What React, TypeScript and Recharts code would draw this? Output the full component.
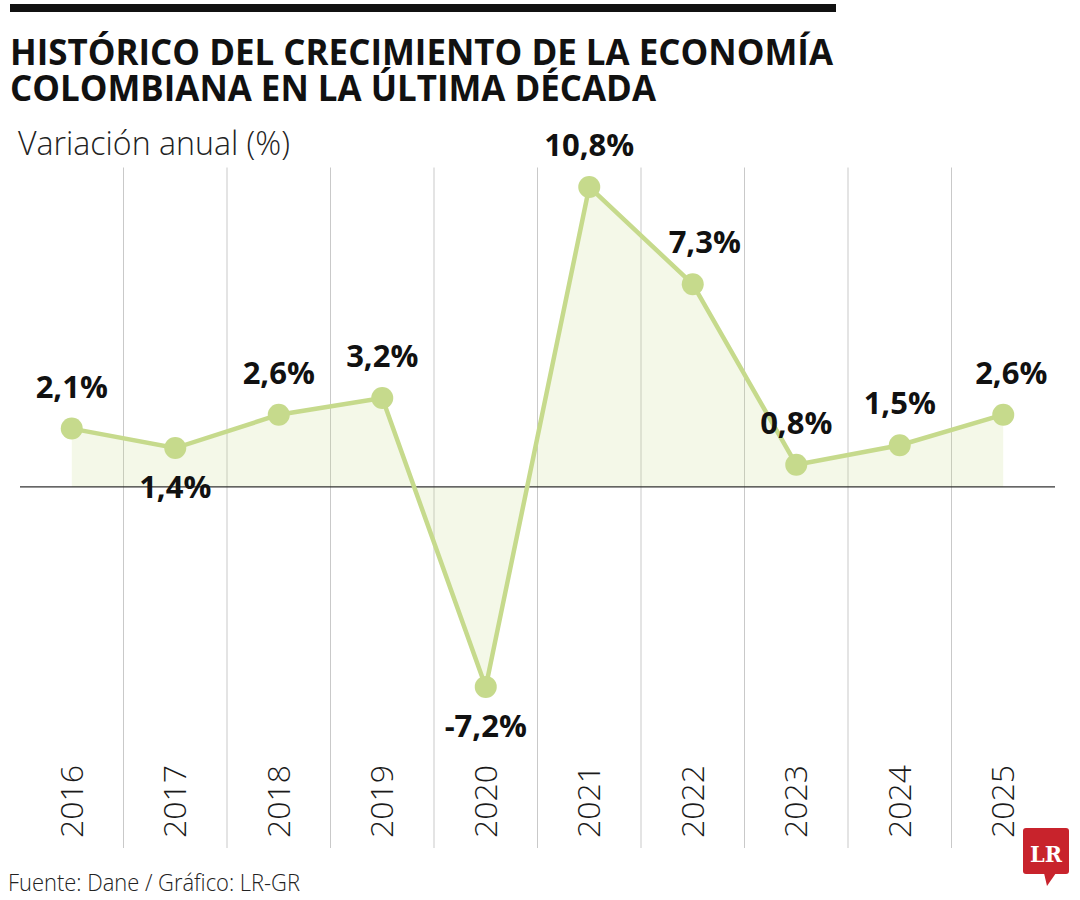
import { ComposedChart, Area, Line, XAxis, YAxis, CartesianGrid, ReferenceLine, LabelList } from "recharts";

const years = ["2016", "2017", "2018", "2019", "2020", "2021", "2022", "2023", "2024", "2025"];
const growth = [2.1, 1.4, 2.6, 3.2, -7.2, 10.8, 7.3, 0.8, 1.5, 2.6];
const growthLabels = ["2,1%", "1,4%", "2,6%", "3,2%", "-7,2%", "10,8%", "7,3%", "0,8%", "1,5%", "2,6%"];

const data = years.map((year, i) => ({ year, value: growth[i], label: growthLabels[i] }));

const GREEN = "#c6da8c";
const FONT = "'Open Sans', 'Noto Sans', sans-serif";

const YearTick = (props: any) => {
  const { x, payload } = props;
  return (
    <text
      x={0}
      y={0}
      transform={`translate(${x + 11}, 838) rotate(-90)`}
      textAnchor="start"
      fontFamily={FONT}
      fontWeight={300}
      fontSize={32}
      fill="#1a1a1a"
    >
      {payload.value}
    </text>
  );
};

const PointLabel = (props: any) => {
  const { x, y, value, index } = props;
  const below = growth[index] < 0 || index === 1;
  const dx = index === 6 ? 12 : index === 9 ? 8 : 0;
  return (
    <text
      x={x + dx}
      y={below ? y + 50 : y - 31}
      textAnchor="middle"
      fontFamily={FONT}
      fontWeight={700}
      fontSize={31}
      fill="#111"
    >
      {value}
    </text>
  );
};

export default function App() {
  return (
    <div style={{ position: "absolute", left: 0, top: 0, width: 1080, height: 900, background: "#fff" }}>
      <svg width={1080} height={170} style={{ position: "absolute", left: 0, top: 0 }}>
        <rect x={10} y={4} width={826} height={8} fill="#111" />
        <text x={10} y={65} fontFamily={FONT} fontWeight={700} fontSize={36} fill="#111" textLength={823} lengthAdjust="spacingAndGlyphs">
          HISTÓRICO DEL CRECIMIENTO DE LA ECONOMÍA
        </text>
        <text x={10} y={101} fontFamily={FONT} fontWeight={700} fontSize={36} fill="#111" textLength={646} lengthAdjust="spacingAndGlyphs">
          COLOMBIANA EN LA ÚLTIMA DÉCADA
        </text>
        <text x={18} y={155} fontFamily={FONT} fontWeight={300} fontSize={33} fill="#222" textLength={272} lengthAdjust="spacingAndGlyphs">
          Variación anual (%)
        </text>
      </svg>
      <div style={{ position: "absolute", left: 0, top: 0 }}>
        <ComposedChart
          width={1080}
          height={900}
          data={data}
          margin={{ top: 167.5, right: 25, bottom: 51, left: 20 }}
        >
          <CartesianGrid
            horizontal={false}
            stroke="#c9c9c9"
            verticalCoordinatesGenerator={({ offset }: any) =>
              years.slice(1).map((_, i) => offset.left + ((i + 1) * offset.width) / years.length)
            }
          />
          <XAxis
            dataKey="year"
            scale="band"
            height={1}
            axisLine={false}
            tickLine={false}
            tick={(p: any) => <YearTick {...p} />}
            interval={0}
          />
          <YAxis hide domain={[-13, 11.5]} />
          <Area
            dataKey="value"
            type="linear"
            baseValue={0}
            stroke="none"
            fill={GREEN}
            fillOpacity={0.2}
            isAnimationActive={false}
          />
          <ReferenceLine y={0} stroke="#333" strokeWidth={1.2} />
          <Line
            dataKey="value"
            type="linear"
            stroke={GREEN}
            strokeWidth={4.5}
            dot={{ r: 11, fill: GREEN, stroke: "none" }}
            activeDot={false}
            isAnimationActive={false}
          >
            <LabelList dataKey="label" content={<PointLabel />} />
          </Line>
        </ComposedChart>
      </div>
      <svg width={1080} height={900} style={{ position: "absolute", left: 0, top: 0, pointerEvents: "none" }}>
        <text x={8} y={891} fontFamily={FONT} fontWeight={300} fontSize={23} fill="#222" textLength={292} lengthAdjust="spacingAndGlyphs">
          Fuente: Dane / Gráfico: LR-GR
        </text>
        <rect x={1023} y={828} width={46} height={46} rx={3} fill="#c8232c" />
        <polygon points="1044,873 1056,873 1047,886" fill="#c8232c" />
        <text x={1046} y={862} textAnchor="middle" fontFamily="'DejaVu Serif', serif" fontWeight={700} fontSize={22} fill="#fff" textLength={32} lengthAdjust="spacingAndGlyphs">
          LR
        </text>
      </svg>
    </div>
  );
}
